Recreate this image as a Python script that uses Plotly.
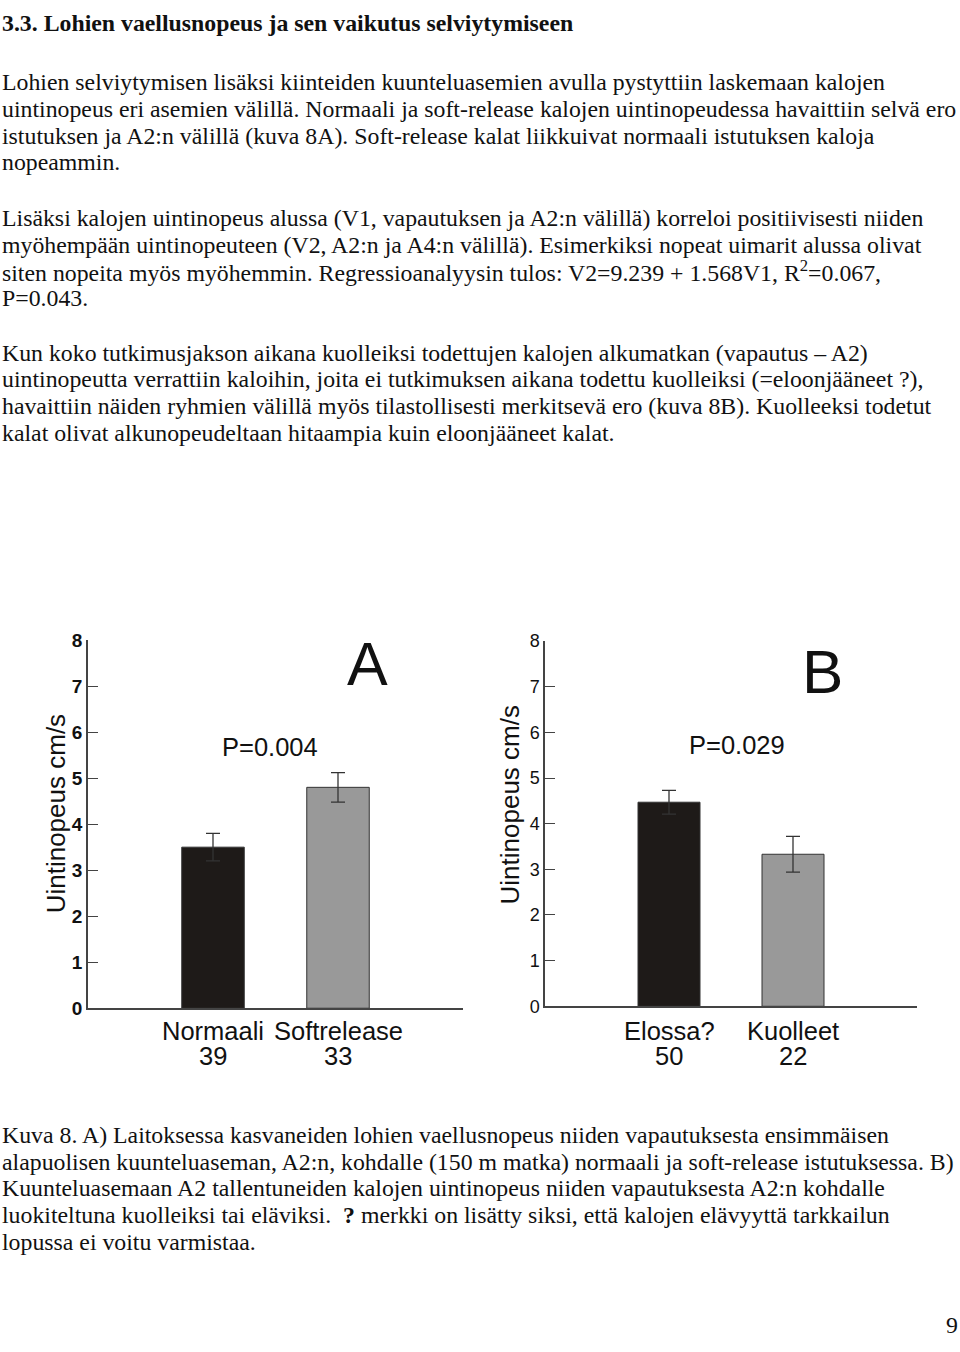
import plotly.graph_objects as go

W, H = 960, 1352

# panel A data
cats_a = ["Normaali", "Softrelease"]
n_a = [39, 33]
mean_a = [3.5, 4.8]
err_a = [0.3, 0.32]
p_a = "P=0.004"

# panel B data
cats_b = ["Elossa?", "Kuolleet"]
n_b = [50, 22]
mean_b = [4.47, 3.33]
err_b = [0.26, 0.39]
p_b = "P=0.029"

bar_colors = ["#1e1a18", "#999999"]
y_ticks = [0, 1, 2, 3, 4, 5, 6, 7, 8]

heading = "3.3. Lohien vaellusnopeus ja sen vaikutus selviytymiseen"
para1 = [
    "Lohien selviytymisen lisäksi kiinteiden kuunteluasemien avulla pystyttiin laskemaan kalojen",
    "uintinopeus eri asemien välillä. Normaali ja soft-release kalojen uintinopeudessa havaittiin selvä ero",
    "istutuksen ja A2:n välillä (kuva 8A). Soft-release kalat liikkuivat normaali istutuksen kaloja",
    "nopeammin.",
]
para2 = [
    "Lisäksi kalojen uintinopeus alussa (V1, vapautuksen ja A2:n välillä) korreloi positiivisesti niiden",
    "myöhempään uintinopeuteen (V2, A2:n ja A4:n välillä). Esimerkiksi nopeat uimarit alussa olivat",
    "siten nopeita myös myöhemmin. Regressioanalyysin tulos: V2=9.239 + 1.568V1, R<sup>2</sup>=0.067,",
    "P=0.043.",
]
para3 = [
    "Kun koko tutkimusjakson aikana kuolleiksi todettujen kalojen alkumatkan (vapautus – A2)",
    "uintinopeutta verrattiin kaloihin, joita ei tutkimuksen aikana todettu kuolleiksi (=eloonjääneet ?),",
    "havaittiin näiden ryhmien välillä myös tilastollisesti merkitsevä ero (kuva 8B). Kuolleeksi todetut",
    "kalat olivat alkunopeudeltaan hitaampia kuin eloonjääneet kalat.",
]
caption = [
    "Kuva 8. A) Laitoksessa kasvaneiden lohien vaellusnopeus niiden vapautuksesta ensimmäisen",
    "alapuolisen kuunteluaseman, A2:n, kohdalle (150 m matka) normaali ja soft-release istutuksessa. B)",
    "Kuunteluasemaan A2 tallentuneiden kalojen uintinopeus niiden vapautuksesta A2:n kohdalle",
    "luokiteltuna kuolleiksi tai eläviksi.  <b>?</b> merkki on lisätty siksi, että kalojen elävyyttä tarkkailun",
    "lopussa ei voitu varmistaa.",
]


def px_x(x):
    return x / W


def px_y(y):
    return 1 - y / H


fig = go.Figure()

fig.add_trace(go.Bar(
    x=[1, 2], y=mean_a, width=0.5,
    marker=dict(color=bar_colors, line=dict(color="#333333", width=1)),
    error_y=dict(type="data", array=err_a, color="#333333", thickness=1.3, width=7),
    xaxis="x", yaxis="y", showlegend=False,
))
fig.add_trace(go.Bar(
    x=[1, 2], y=mean_b, width=0.5,
    marker=dict(color=bar_colors, line=dict(color="#333333", width=1)),
    error_y=dict(type="data", array=err_b, color="#333333", thickness=1.3, width=7),
    xaxis="x2", yaxis="y2", showlegend=False,
))

axis_common = dict(showgrid=False, zeroline=False, showline=True,
                   linecolor="#444444", linewidth=1.5)

fig.update_layout(
    width=W, height=H,
    margin=dict(l=0, r=0, t=0, b=0),
    paper_bgcolor="white", plot_bgcolor="white",
    font=dict(family="Liberation Sans, Arial", color="#111111"),
    xaxis=dict(domain=[px_x(88), px_x(463)], range=[0, 3], anchor="y",
               showticklabels=False, ticks="", **axis_common),
    yaxis=dict(domain=[px_y(1014), px_y(640)], range=[0, 8], anchor="x",
               tickvals=y_ticks, ticks="inside", ticklen=10, tickcolor="#444444",
               tickfont=dict(size=19, weight="bold"), **axis_common),
    xaxis2=dict(domain=[px_x(545), px_x(917)], range=[0, 3], anchor="y2",
                showticklabels=False, ticks="", **axis_common),
    yaxis2=dict(domain=[px_y(1012), px_y(641)], range=[0, 8], anchor="x2",
                tickvals=y_ticks, ticks="inside", ticklen=10, tickcolor="#444444",
                tickfont=dict(size=18), **axis_common),
)

ann = []
serif = dict(family="Liberation Serif, Times New Roman", size=23.8, color="#111111")


def text_line(txt, y, x=0, font=serif):
    ann.append(dict(text=txt, x=px_x(x), y=px_y(y), xref="paper", yref="paper",
                    xanchor="left", yanchor="middle", showarrow=False, font=font))


text_line("<b>" + heading + "</b>", 13)
for i, t in enumerate(para1):
    text_line(t, 73 + 27.3 * i)
for i, t in enumerate(para2):
    text_line(t, 211 + 27.3 * i)
for i, t in enumerate(para3):
    text_line(t, 348 + 27.3 * i)
for i, t in enumerate(caption):
    text_line(t, 1143 + 27 * i)
ann.append(dict(text="9", x=px_x(960), y=px_y(1336), xref="paper", yref="paper",
                xanchor="right", yanchor="middle", showarrow=False, font=serif))

# panel decorations
sans = "Liberation Sans, Arial"
deco = [
    dict(text="A", x=px_x(367), y=px_y(664), font=dict(family=sans, size=61)),
    dict(text="B", x=px_x(822), y=px_y(672), font=dict(family=sans, size=62)),
    dict(text=p_a, x=px_x(270), y=px_y(749), font=dict(family=sans, size=25.5)),
    dict(text=p_b, x=px_x(737), y=px_y(747), font=dict(family=sans, size=25.5)),
    dict(text="Uintinopeus cm/s", x=px_x(56), y=px_y(817), textangle=-90,
         font=dict(family=sans, size=26)),
    dict(text="Uintinopeus cm/s", x=px_x(510), y=px_y(808), textangle=-90,
         font=dict(family=sans, size=26)),
]
for a in deco:
    a.update(xref="paper", yref="paper", xanchor="center", yanchor="middle",
             showarrow=False)
ann += deco

# category labels with group sizes under the bars
for xref, cats, ns in (("x", cats_a, n_a), ("x2", cats_b, n_b)):
    for i, (c, n) in enumerate(zip(cats, ns)):
        for txt, y in ((c, 1037), (str(n), 1062)):
            ann.append(dict(text=txt, x=i + 1, y=px_y(y), xref=xref, yref="paper",
                            xanchor="center", yanchor="middle", showarrow=False,
                            font=dict(family=sans, size=25.5)))

fig.update_layout(annotations=ann)
fig.write_html("out.html", post_script="document.body.style.margin='0';",
               config={"displayModeBar": False})
